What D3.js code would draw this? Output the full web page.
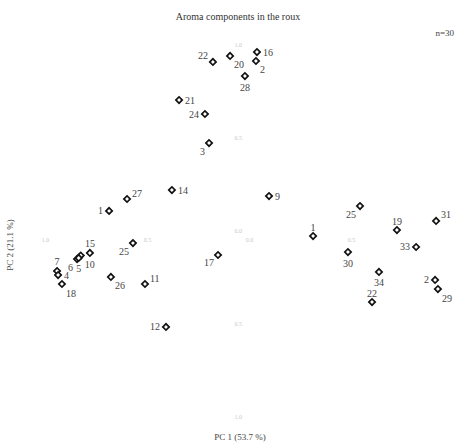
<!DOCTYPE html>
<html>
<head>
<meta charset="utf-8">
<script src="https://cdn.jsdelivr.net/npm/d3@7"></script>
<style>
  body { margin: 0; background: #fff; }
  svg text { font-family: "Liberation Serif", "DejaVu Serif", serif; }
</style>
</head>
<body>
<div id="chart"></div>
<script>
// sample ids and PCA scores
var labels = ["22","20","16","2","28","21","24","3","14","9","27","1","15","25","10","6","5","7","4","18","26","11","17","12",
              "1","25","19","31","33","30","34","22","2","29"];
var pc1 = [-0.172,-0.088,0.044,0.039,-0.015,-0.338,-0.211,-0.191,-0.373,0.103,-0.593,-0.681,-0.775,-0.564,-0.820,-0.838,-0.830,-0.936,-0.931,-0.912,-0.672,-0.505,-0.147,-0.402,
           0.319,0.549,0.730,0.922,0.824,0.490,0.642,0.608,0.917,0.931];
var pc2 = [0.909,0.941,0.962,0.914,0.833,0.704,0.629,0.473,0.220,0.188,0.172,0.108,-0.118,-0.065,-0.132,-0.151,-0.145,-0.215,-0.237,-0.285,-0.247,-0.285,-0.129,-0.516,
           -0.027,0.134,0.005,0.054,-0.086,-0.113,-0.220,-0.382,-0.263,-0.312];
// where each label sits relative to its point
var sides = ["ul","br","r","br","b","r","l","bl","r","r","ur","l","t","bl","br","bl","b","t","r","br","br","ur","bl","l",
             "t","bl","t","ur","l","b","b","t","l","br"];
var xTicks = [-1, -0.5, 0, 0.5];
var yTicks = [-1, -0.5, 0, 0.5, 1];

var width = 456, height = 447;
var svg = d3.select("#chart").append("svg")
    .attr("width", width)
    .attr("height", height);

var x = d3.scaleLinear().domain([-1, 1]).range([44, 452]);
var y = d3.scaleLinear().domain([-1, 1]).range([417, 45]);

var fmt = d3.format(".1f");

// axes through the origin, only faint tick labels
var xAxis = svg.append("g")
    .attr("transform", "translate(0," + y(0) + ")")
    .call(d3.axisBottom(x).tickValues(xTicks).tickFormat(d => fmt(Math.abs(d))).tickSize(0).tickPadding(7));
var yAxis = svg.append("g")
    .attr("transform", "translate(" + x(0) + ",0)")
    .call(d3.axisLeft(y).tickValues(yTicks).tickFormat(d => fmt(Math.abs(d))).tickSize(0).tickPadding(6));
[xAxis, yAxis].forEach(a => {
    a.select(".domain").remove();
    a.selectAll("text")
        .attr("fill", "#c8c8c8")
        .style("font-size", "6px")
        .style("font-family", "Liberation Serif, serif");
});
xAxis.selectAll("text").attr("dx", 1);

var data = labels.map((l, i) => ({label: l, x: pc1[i], y: pc2[i], side: sides[i]}));

var off = {
    r:  [6, 0, "start"], l: [-6, 0, "end"], t: [0, -9, "middle"], b: [0, 11, "middle"],
    ur: [5, -6, "start"], ul: [-5, -6, "end"], br: [4, 9, "start"], bl: [-4, 8, "end"]
};

var sym = d3.symbol().type(d3.symbolSquare).size(20);

svg.selectAll(".pt")
    .data(data)
    .enter().append("path")
    .attr("class", "pt")
    .attr("d", sym)
    .attr("transform", d => "translate(" + x(d.x) + "," + y(d.y) + ") rotate(45)")
    .attr("fill", "#fff")
    .attr("stroke", "#111")
    .attr("stroke-width", 1.7);

svg.selectAll(".lab")
    .data(data)
    .enter().append("text")
    .attr("class", "lab")
    .attr("x", d => x(d.x) + off[d.side][0])
    .attr("y", d => y(d.y) + off[d.side][1])
    .attr("dy", "0.35em")
    .attr("text-anchor", d => off[d.side][2])
    .attr("fill", "#444")
    .style("font-size", "10px")
    .text(d => d.label);

svg.append("text")
    .attr("x", 238).attr("y", 20)
    .attr("text-anchor", "middle")
    .attr("fill", "#333")
    .style("font-size", "10px")
    .text("Aroma components in the roux");

svg.append("text")
    .attr("x", 454).attr("y", 36)
    .attr("text-anchor", "end")
    .attr("fill", "#444")
    .style("font-size", "9px")
    .text("n=30");

svg.append("text")
    .attr("x", 240).attr("y", 440)
    .attr("text-anchor", "middle")
    .attr("fill", "#444")
    .style("font-size", "9px")
    .text("PC 1 (53.7 %)");

svg.append("text")
    .attr("transform", "translate(13," + 245 + ") rotate(-90)")
    .attr("text-anchor", "middle")
    .attr("fill", "#444")
    .style("font-size", "9px")
    .text("PC 2 (21.1 %)");
</script>
</body>
</html>
